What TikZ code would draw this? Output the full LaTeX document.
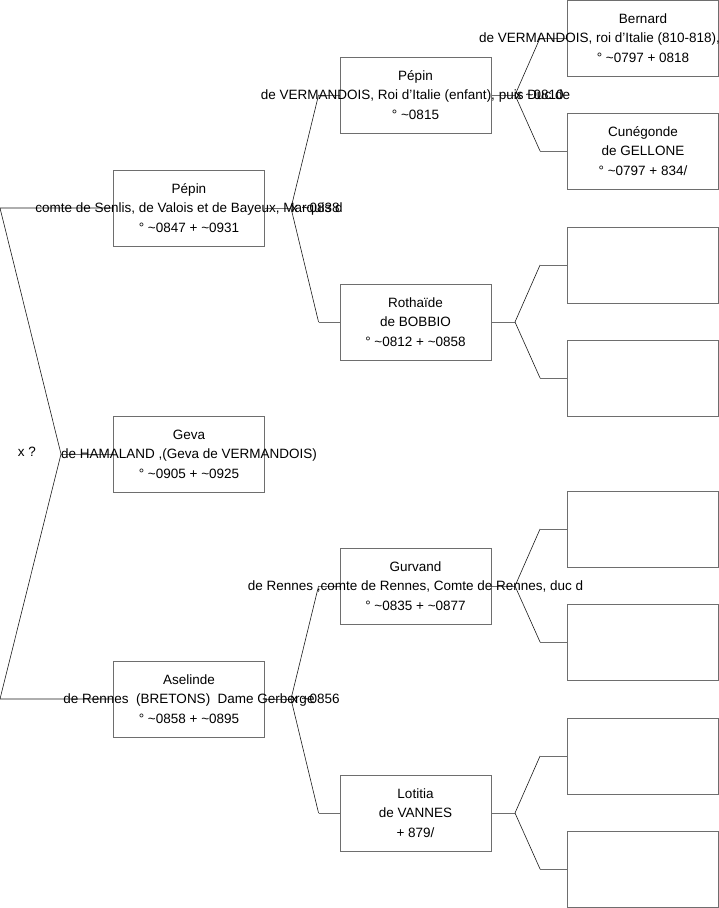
\documentclass[tikz,border=0pt]{standalone}
\usepackage{fontspec}
\setmainfont{Liberation Sans}
\usetikzlibrary{calc}

\begin{document}
\begin{tikzpicture}[x=1pt, y=-1pt]
    % Define box size
    \def\boxW{151}
    \def\boxH{76}

    \definecolor{borderColour}{HTML}{6E6E6E}
    \definecolor{lineColour}{HTML}{1A1A1A}

    \tikzset{
        personbox/.style={draw=borderColour, line width=0.9pt, minimum width=\boxW pt, minimum height=\boxH pt, inner sep=0pt},
        persontext/.style={align=center, inner sep=0pt, font=\fontsize{13.5}{19.5}\selectfont},
        stub/.style={draw=borderColour, line width=0.9pt},
        leg/.style={draw=lineColour, line width=0.6pt},
        marriage/.style={anchor=west, inner sep=0pt, font=\fontsize{13.5}{19.5}\selectfont}
    }

    % Fix the page size
    \useasboundingbox (0,0) rectangle (719,908);

    % First column
    \node[personbox] (p1) at (189,208) {};
    \node[personbox] (g1) at (189,454) {};
    \node[personbox] (a1) at (189,699) {};

    % Second column
    \node[personbox] (p2) at (415.5,95) {};
    \node[personbox] (r2) at (415.5,322) {};
    \node[personbox] (g2) at (415.5,586) {};
    \node[personbox] (l2) at (415.5,813) {};

    % Third column
    \node[personbox] (b3) at (643,38) {};
    \node[personbox] (c3) at (643,151) {};
    \node[personbox] (e3) at (643,265) {};
    \node[personbox] (f3) at (643,378) {};
    \node[personbox] (h3) at (643,529) {};
    \node[personbox] (i3) at (643,642) {};
    \node[personbox] (j3) at (643,756) {};
    \node[personbox] (k3) at (643,869) {};

    % Fork points
    \coordinate (root) at (61,454);
    \coordinate (fp1) at (291,208);
    \coordinate (fa1) at (291,699);
    \coordinate (fp2) at (515,95);
    \coordinate (fr2) at (515,322);
    \coordinate (fg2) at (515,586);
    \coordinate (fl2) at (515,813);

    % Draw the root fork
    \draw[leg] (root) -- (p1.west -| 0,0) -- (p1.west);
    \draw[stub] (root) -- (g1.west);
    \draw[leg] (root) -- (a1.west -| 0,0) -- (a1.west);
    \node (xq) at (27,452) {\fontsize{13.5}{19.5}\selectfont x ?};

    % Draw the forks of the first column
    \foreach \a/\f/\u/\d in {p1/fp1/p2/r2, a1/fa1/g2/l2} {
        \draw[stub] (\a.east) -- (\f);
        \draw[leg] (\f) -- ([xshift=-21pt]\u.west);
        \draw[stub] ([xshift=-21pt]\u.west) -- (\u.west);
        \draw[leg] (\f) -- ([xshift=-21pt]\d.west);
        \draw[stub] ([xshift=-21pt]\d.west) -- (\d.west);
    }

    % Draw the forks of the second column
    \foreach \a/\f/\u/\d in {p2/fp2/b3/c3, r2/fr2/e3/f3, g2/fg2/h3/i3, l2/fl2/j3/k3} {
        \draw[stub] (\a.east) -- (\f);
        \draw[leg] (\f) -- ([xshift=-27pt]\u.west);
        \draw[stub] ([xshift=-27pt]\u.west) -- (\u.west);
        \draw[leg] (\f) -- ([xshift=-27pt]\d.west);
        \draw[stub] ([xshift=-27pt]\d.west) -- (\d.west);
    }

    % Names and dates
    \node[persontext] (p1t) at (p1) {Pépin\\comte de Senlis, de Valois et de Bayeux, Marquis d\\° \textasciitilde0847 + \textasciitilde0931};
    \node[persontext] (g1t) at (g1) {Geva\\de HAMALAND ,(Geva de VERMANDOIS)\\° \textasciitilde0905 + \textasciitilde0925};
    \node[persontext] (a1t) at (a1) {Aselinde\\de Rennes\ \ (BRETONS)\ \ Dame Gerberge\\° \textasciitilde0858 + \textasciitilde0895};
    \node[persontext] (p2t) at (p2) {Pépin\\de VERMANDOIS, Roi d'Italie (enfant), puis Duc de\\° \textasciitilde0815};
    \node[persontext] (r2t) at (r2) {Rothaïde\\de BOBBIO\\° \textasciitilde0812 + \textasciitilde0858};
    \node[persontext] (g2t) at (g2) {Gurvand\\de Rennes ,comte de Rennes, Comte de Rennes, duc d\\° \textasciitilde0835 + \textasciitilde0877};
    \node[persontext] (l2t) at (l2) {Lotitia\\de VANNES\\+ 879/};
    \node[persontext] (b3t) at (b3) {Bernard\\\makebox[328pt][l]{de VERMANDOIS, roi d'Italie (810-818),}\\° \textasciitilde0797 + 0818};
    \node[persontext] (c3t) at (c3) {Cunégonde\\de GELLONE\\° \textasciitilde0797 + 834/};

    % Marriages
    \node[marriage] (m1) at (fp1) {x \textasciitilde0838};
    \node[marriage] (m2) at (fa1) {x \textasciitilde0856};
    \node[marriage] (m3) at (fp2) {x \textasciitilde0810};

\end{tikzpicture}
\end{document}
